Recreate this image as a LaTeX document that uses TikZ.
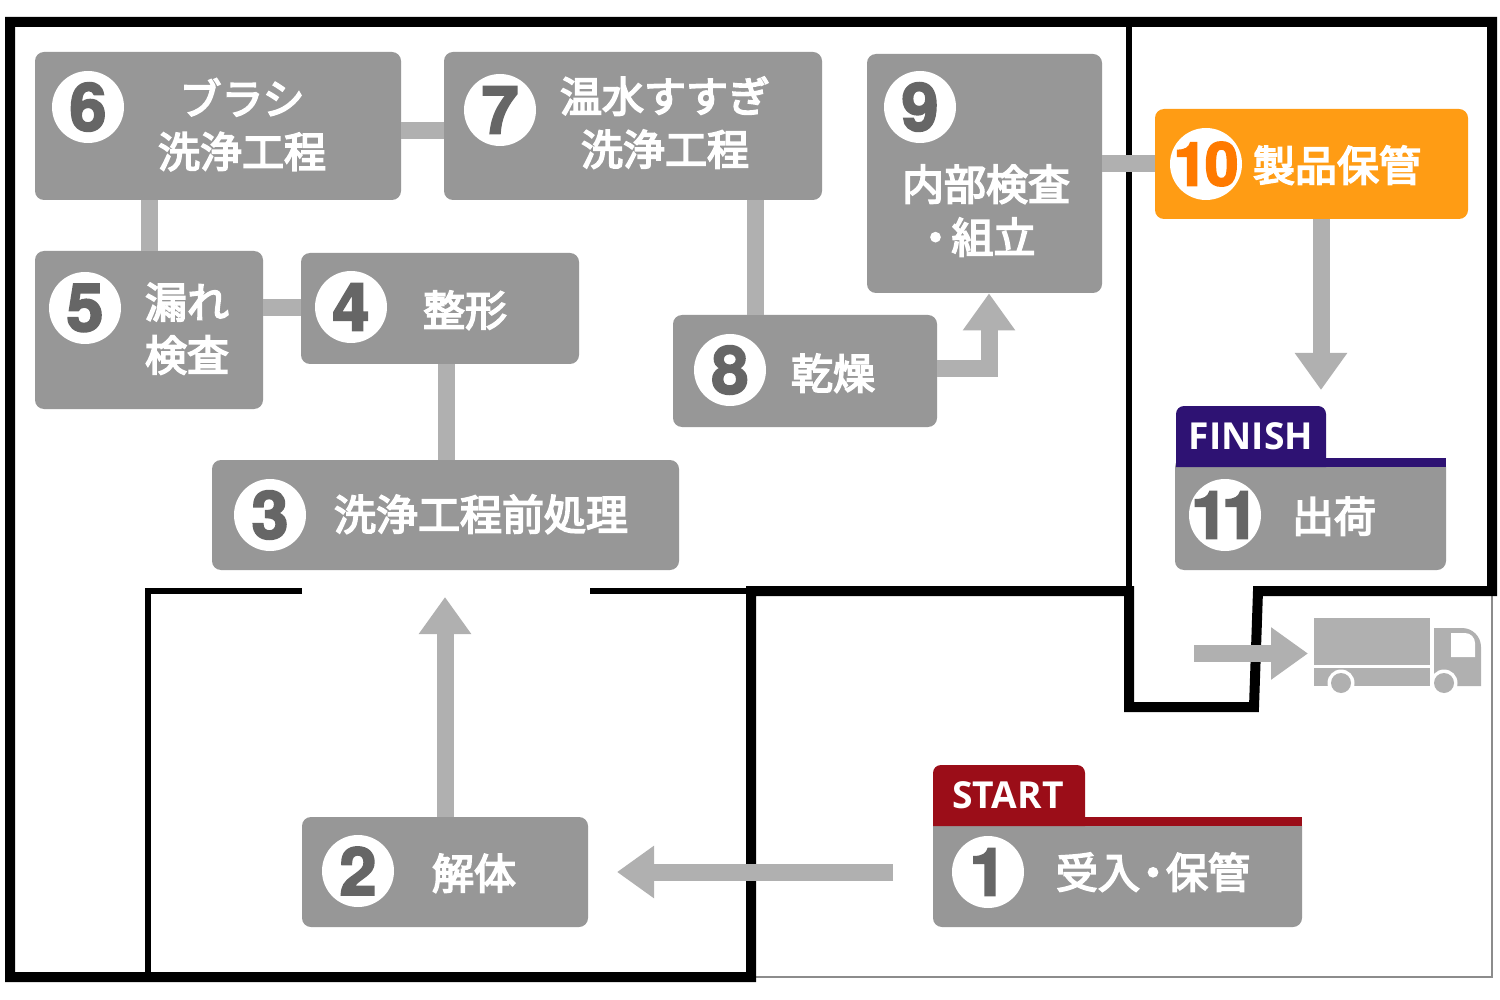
\documentclass[tikz,border=0pt]{standalone}
\usepackage{fontspec}
\usetikzlibrary{arrows.meta,calc}
\newfontfamily\cjk[FakeBold=4]{Noto Sans CJK JP}
\newfontfamily\numf[BoldFeatures={FakeBold=3.2}]{TeX Gyre Heros}
\newfontfamily\tabf{Open Sans}
\definecolor{boxc}{HTML}{979797}
\definecolor{conc}{HTML}{B0B0B0}
\definecolor{numc}{HTML}{666666}
\definecolor{orangeb}{HTML}{FF9C14}
\definecolor{orangen}{HTML}{FF7A00}
\definecolor{startc}{HTML}{9B0D18}
\definecolor{finishc}{HTML}{2E1273}
\definecolor{framec}{HTML}{8C8C8C}
\tikzset{
  procbox/.style={rectangle,rounded corners=4.5pt,inner sep=0pt,draw=none},
  numcircle/.style={circle,fill=white,minimum size=36pt,inner sep=0pt,text=numc,font=\numf\bfseries\fontsize{33pt}{33pt}\selectfont},
  lbl/.style={inner sep=0pt,text=white,yshift=.4pt,font=\cjk\fontsize{21pt}{26.5pt}\selectfont,align=center},
  tablbl/.style={inner sep=0pt,text=white,font=\tabf\bfseries\fontsize{18.6pt}{18.6pt}\selectfont},
  conn/.style={draw=conc,line width=8.5pt},
  arr/.style={draw=conc,line width=8.5pt,-{Triangle[width=25pt,length=18.5pt,fill=conc]}},
  wall/.style={draw=black,line width=5pt,miter limit=10},
  thinwall/.style={draw=black,line width=2.8pt},
}
\newcommand\procbox[6][boxc]{%
  \pgfmathsetmacro\bw{(#4-#2)*.5}\pgfmathsetmacro\bh{(#5-#3)*.5}%
  \node[procbox,fill=#1,minimum width=\bw pt,minimum height=\bh pt] (#6) at ({(#2+#4)/2},{(#3+#5)/2}) {};}
\begin{document}
\begin{tikzpicture}[x=.5pt,y=-.5pt]
\useasboundingbox (0,0) rectangle (1500,1000);
\fill[white] (0,0) rectangle (1500,1000);
% thin outer frame
\draw[framec,line width=1pt] (751,977) -- (1492,977) -- (1492,591);
% walls
\draw[wall] (1129,591) -- (751,591) -- (751,977) -- (10,977) -- (10,22) -- (1492,22) -- (1492,591) -- (1258,591) -- (1254,707) -- (1129,707) -- cycle;
\draw[thinwall] (1129,22) -- (1129,591);
\draw[thinwall] (302,591) -- (148,591) -- (148,975);
\draw[thinwall] (590,591) -- (751,591);
% boxes
\procbox{35}{52}{401}{200}{n6}
\procbox{444}{52}{822}{200}{n7}
\procbox{867}{54}{1102}{293}{n9}
\procbox[orangeb]{1155}{109}{1468}{219}{n10}
\procbox{35}{251}{263}{409}{n5}
\procbox{301}{253}{579}{364}{n4}
\procbox{673}{315}{937}{427}{n8}
\procbox{212}{460}{679}{570}{n3}
\procbox{1175}{458}{1446}{570}{n11}
\procbox{302}{817}{588}{927}{n2}
\procbox{933}{817}{1302}{927}{n1}
% connector anchors
\coordinate (tip11) at (1321,390);
\coordinate (tip3) at (445,597);
\coordinate (tip2) at (617,872);
\coordinate (tail1) at (893,872);
\coordinate (elbow) at (989,369);
\coordinate (trucktail) at (1194,653.5);
\coordinate (trucktip) at (1308,653.5);
\coordinate (a67) at (0,131);
\coordinate (a65) at (149.5,0);
\coordinate (a54) at (0,308);
\coordinate (a43) at (446,0);
\coordinate (a78) at (755,0);
\coordinate (a910) at (0,164);
% connectors
\draw[conn] (n6.east |- a67) -- (n7.west |- a67);
\draw[conn] (a65 |- n6.south) -- (a65 |- n5.north);
\draw[conn] (n5.east |- a54) -- (n4.west |- a54);
\draw[conn] (a43 |- n4.south) -- (a43 |- n3.north);
\draw[conn] (a78 |- n7.south) -- (a78 |- n8.north);
\draw[conn] (n9.east |- a910) -- (n10.west |- a910);
\draw[arr] (n8.east |- elbow) -- (elbow) -- (elbow |- n9.south);
\draw[arr] (tip11 |- n10.south) -- (tip11);
\draw[arr] (tip3 |- n2.north) -- (tip3);
\draw[arr] (tail1) -- (tip2);
\draw[arr] (trucktail) -- (trucktip);
% start / finish tabs
\fill[finishc] (1176,467) [rounded corners=4pt] -- (1176,406) -- (1326,406) [sharp corners] -- (1326,467) -- cycle;
\fill[finishc] (1176,458) rectangle (1446,467);
\fill[startc] (933,826) [rounded corners=4pt] -- (933,765) -- (1085,765) [sharp corners] -- (1085,826) -- cycle;
\fill[startc] (933,817) rectangle (1302,826);
\node[tablbl] (tfinish) at (1251,436) {FINISH};
\node[tablbl] (tstart) at (1008,795) {START};
% numbers
\node[numcircle] (c1) at (988,872) {1};
\node[numcircle] (c2) at (358,871) {2};
\node[numcircle] (c3) at (270,515) {3};
\node[numcircle] (c4) at (351,307) {4};
\node[numcircle] (c5) at (85,308) {5};
\node[numcircle] (c6) at (88,107) {6};
\node[numcircle] (c7) at (500,110) {7};
\node[numcircle] (c8) at (730,370) {8};
\node[numcircle] (c9) at (920,107) {9};
\node[numcircle,text=orangen] (c10) at (1206,164) {\makebox[0pt]{\fontsize{30pt}{30pt}\selectfont 1\kern-1pt 0}};
\node[numcircle] (c11) at (1225,515) {\makebox[0pt]{1\kern-3pt 1}};
% labels
\node[lbl] (l6) at (242,125.5) {ブラシ\\洗浄工程};
\node[lbl] (l7) at (665,123.5) {温水すすぎ\\洗浄工程};
\node[lbl] (l9) at (986,211.5) {内部検査\\・\kern-2.5pt 組立\kern 11pt};
\node[lbl] (l10) at (1337,166) {製品保管};
\node[lbl] (l5) at (187,329.5) {漏れ\\検査};
\node[lbl] (l4) at (465,311) {整形};
\node[lbl] (l8) at (833,374) {乾燥};
\node[lbl] (l3) at (481,515) {洗浄工程前処理};
\node[lbl] (l11) at (1334,517) {出荷};
\node[lbl] (l2) at (474,874) {解体};
\node[lbl] (l1) at (1153,873) {受入\kern-4pt・\kern-4pt保管};
% truck
\fill[conc] (1314,618) rectangle (1430,665);
\fill[conc] (1314,668) rectangle (1430,686);
\fill[conc] (1434,686) -- (1434,628) -- (1462,628) arc[start angle=-90,end angle=0,radius=19] -- (1481,686) -- cycle;
\fill[white] (1451,633) -- (1465,633) arc[start angle=-90,end angle=0,radius=10] -- (1475,657) -- (1451,657) -- cycle;
\fill[white] (1341,683) circle[radius=13.5];
\fill[white] (1444,683) circle[radius=13.5];
\fill[conc] (1341,683) circle[radius=10];
\fill[conc] (1444,683) circle[radius=10];
\end{tikzpicture}
\end{document}
